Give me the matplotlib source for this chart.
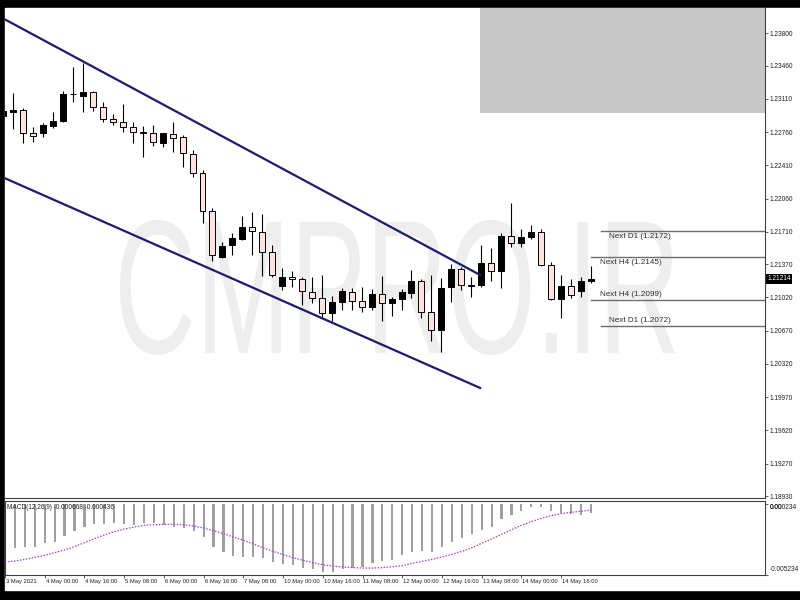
import matplotlib
matplotlib.use("Agg")
import matplotlib.pyplot as plt
import matplotlib.transforms as mtransforms
from matplotlib.patches import Rectangle, PathPatch
from matplotlib.textpath import TextPath
from matplotlib.font_manager import FontProperties

# EURUSD H4 candles, 3 May - 14 May 2021 (bar index 0..59)
opens = [1.22930, 1.22969, 1.22993, 1.22747, 1.22747, 1.22824, 1.22880, 1.23156, 1.23145, 1.23179,
         1.23027, 1.22898, 1.22870, 1.22817, 1.22758, 1.22747, 1.22642, 1.22737, 1.22705, 1.22530,
         1.22333, 1.21933, 1.21449, 1.21572, 1.21635, 1.21758, 1.21712, 1.21501, 1.21140, 1.21238,
         1.21211, 1.21080, 1.21011, 1.20859, 1.20975, 1.21080, 1.20986, 1.20922, 1.21053, 1.20965,
         1.21003, 1.21070, 1.21196, 1.20870, 1.20677, 1.21133, 1.21316, 1.21145, 1.21151, 1.21386,
         1.21301, 1.21670, 1.21596, 1.21659, 1.21712, 1.21361, 1.21000, 1.21140, 1.21091, 1.21196]
highs = [1.23045, 1.23168, 1.23011, 1.22817, 1.22859, 1.22975, 1.23196, 1.23448, 1.23491, 1.23196,
         1.23074, 1.22947, 1.23056, 1.22863, 1.22824, 1.22835, 1.22754, 1.22863, 1.22730, 1.22572,
         1.22361, 1.21958, 1.21607, 1.21695, 1.21877, 1.21922, 1.21898, 1.21572, 1.21327, 1.21301,
         1.21232, 1.21232, 1.21256, 1.21035, 1.21116, 1.21122, 1.21133, 1.21109, 1.21246, 1.21028,
         1.21109, 1.21309, 1.21211, 1.21256, 1.21221, 1.21372, 1.21337, 1.21238, 1.21572, 1.21537,
         1.21695, 1.22017, 1.21737, 1.21782, 1.21737, 1.21396, 1.21256, 1.21211, 1.21232, 1.21351]
lows = [1.22887, 1.22790, 1.22649, 1.22659, 1.22712, 1.22806, 1.22870, 1.23077, 1.22975, 1.22985,
        1.22870, 1.22835, 1.22764, 1.22649, 1.22501, 1.22617, 1.22606, 1.22554, 1.22390, 1.22291,
        1.21800, 1.21407, 1.21432, 1.21467, 1.21624, 1.21467, 1.21246, 1.21238, 1.21098, 1.21133,
        1.20940, 1.20958, 1.20817, 1.20775, 1.20888, 1.20888, 1.20870, 1.20888, 1.20775, 1.20825,
        1.20888, 1.21011, 1.20800, 1.20565, 1.20449, 1.20975, 1.21098, 1.21021, 1.21133, 1.21196,
        1.21116, 1.21548, 1.21554, 1.21632, 1.21351, 1.20993, 1.20800, 1.21011, 1.21021, 1.21169]
closes = [1.22982, 1.22993, 1.22747, 1.22722, 1.22832, 1.22880, 1.23158, 1.23161, 1.23179, 1.23027,
          1.22898, 1.22870, 1.22817, 1.22758, 1.22751, 1.22653, 1.22747, 1.22695, 1.22537, 1.22333,
          1.21933, 1.21467, 1.21561, 1.21642, 1.21758, 1.21722, 1.21501, 1.21256, 1.21238, 1.21211,
          1.21091, 1.21011, 1.20853, 1.20975, 1.21091, 1.20986, 1.20922, 1.21053, 1.20965, 1.21007,
          1.21074, 1.21196, 1.20870, 1.20677, 1.21122, 1.21316, 1.21151, 1.21151, 1.21386, 1.21301,
          1.21670, 1.21596, 1.21659, 1.21712, 1.21361, 1.21000, 1.21140, 1.21046, 1.21196, 1.21214]

# MACD(12,26,9): main histogram and signal line
macd_main = [-0.00330, -0.00326, -0.00319, -0.00314, -0.00289, -0.00277, -0.00233, -0.00196, -0.00166, -0.00149,
             -0.00149, -0.00142, -0.00149, -0.00154, -0.00142, -0.00142, -0.00154, -0.00166, -0.00174, -0.00196,
             -0.00240, -0.00314, -0.00356, -0.00381, -0.00388, -0.00388, -0.00400, -0.00425, -0.00442, -0.00450,
             -0.00474, -0.00482, -0.00499, -0.00499, -0.00482, -0.00474, -0.00462, -0.00437, -0.00420, -0.00413,
             -0.00376, -0.00351, -0.00346, -0.00351, -0.00319, -0.00277, -0.00248, -0.00223, -0.00191, -0.00166,
             -0.00112, -0.00080, -0.00048, -0.00019, -0.00019, -0.00048, -0.00068, -0.00073, -0.00080, -0.000668]
macd_signal = [-0.00427, -0.00420, -0.00408, -0.00393, -0.00378, -0.00358, -0.00339, -0.00314, -0.00285, -0.00255,
               -0.00228, -0.00203, -0.00184, -0.00169, -0.00156, -0.00152, -0.00149, -0.00149, -0.00152, -0.00161,
               -0.00176, -0.00196, -0.00218, -0.00243, -0.00267, -0.00294, -0.00322, -0.00349, -0.00373, -0.00395,
               -0.00415, -0.00432, -0.00447, -0.00457, -0.00464, -0.00469, -0.00472, -0.00472, -0.00469, -0.00462,
               -0.00455, -0.00437, -0.00422, -0.00408, -0.00390, -0.00371, -0.00349, -0.00322, -0.00289, -0.00257,
               -0.00223, -0.00189, -0.00156, -0.00129, -0.00105, -0.00085, -0.00070, -0.00060, -0.00053, -0.000436]

date_ticks = [0, 4, 8, 12, 16, 20, 24, 28, 32, 36, 40, 44, 48, 52, 56]
date_labels = ["3 May 2021", "4 May 00:00", "4 May 16:00", "5 May 08:00", "6 May 00:00",
               "6 May 16:00", "7 May 08:00", "10 May 00:00", "10 May 16:00", "11 May 08:00",
               "12 May 00:00", "12 May 16:00", "13 May 08:00", "14 May 00:00", "14 May 16:00"]

price_ticks = [1.23800, 1.23460, 1.23110, 1.22760, 1.22410, 1.22060, 1.21710, 1.21370,
               1.21020, 1.20670, 1.20320, 1.19970, 1.19620, 1.19270, 1.18930]
price_labels = ["%.5f" % p for p in price_ticks]
last_price = 1.21214

macd_top = 0.000234
macd_bottom = -0.005234

# channel trendlines (bar index, price)
upper_line = ([0.0, 47.9], [1.23954, 1.21256])
lower_line = ([0.0, 47.9], [1.22281, 1.20067])

# supply zone rectangle
zone_start = 47.9
zone_low = 1.22964

# projected levels: (text, price, start bar, text bar, text above line?)
levels = [("Next D1 (1.2172)", 1.2172, 60.0, 60.85, False),
          ("Next H4 (1.2145)", 1.2145, 59.0, 59.95, False),
          ("Next H4 (1.2099)", 1.2099, 59.0, 59.95, True),
          ("Next D1 (1.2072)", 1.2072, 60.0, 60.85, True)]

small = FontProperties(family="Liberation Sans", size=4.7)
dates_font = FontProperties(family="Liberation Sans", size=4.25)

fig = plt.figure(figsize=(8, 6), dpi=100, facecolor="black")
fig.patches.append(Rectangle((5 / 800, 10 / 600), 795 / 800, 582 / 600,
                             transform=fig.transFigure, color="white", zorder=-10))

ax = fig.add_axes([5 / 800, 102 / 600, 760 / 800, 490 / 600])
axm = fig.add_axes([5 / 800, 25 / 600, 760 / 800, 74 / 600])

xlim = (0.15, 76.53)

# watermark
tp = TextPath((0, 0), "CMPRO.IR", size=100, prop=FontProperties(family="Liberation Sans"))
bb = tp.get_extents()
wm_tr = (mtransforms.Affine2D().translate(-bb.x0, -bb.y0)
         .scale(555 / bb.width, 135 / bb.height).translate(120, 245).scale(1 / 100.0)
         + fig.dpi_scale_trans)
ax.add_patch(PathPatch(tp, transform=wm_tr, facecolor="#eeeeee", lw=0, zorder=0.5))

# zone
ax.add_patch(Rectangle((zone_start, zone_low), 40, 0.05, facecolor="#c8c8c8",
                       edgecolor="none", zorder=1))

# candles
for i in range(len(opens)):
    o, h, l, c = opens[i], highs[i], lows[i], closes[i]
    ax.vlines(i, l, h, color="black", lw=0.8, zorder=2)
    bottom = min(o, c)
    height = max(abs(c - o), 0.00001)
    fc = "black" if c >= o else "#fde3df"
    ax.add_patch(Rectangle((i - 0.3, bottom), 0.6, height, facecolor=fc,
                           edgecolor="black", lw=0.7, zorder=3))

ax.plot(*upper_line, color="#1b1b74", lw=1.6, zorder=4)
ax.plot(*lower_line, color="#1b1b74", lw=1.6, zorder=4)

for text, price, start, tx, above in levels:
    ax.plot([start, 80], [price, price], color="#6e6e6e", lw=1.0, zorder=2)
    if above:
        ax.text(tx, price + 0.00025, text, fontsize=5.9, family="Liberation Sans",
                color="#303030", va="bottom", ha="left", zorder=5)
    else:
        ax.text(tx, price - 0.00025, text, fontsize=5.9, family="Liberation Sans",
                color="#303030", va="top", ha="left", zorder=5)

ax.set_xlim(*xlim)
ax.set_ylim(1.18909, 1.24066)
ax.set_xticks([])
ax.yaxis.tick_right()
ax.set_yticks(price_ticks)
ax.set_yticklabels(price_labels, fontproperties=small, color="#202020")
ax.tick_params(axis="y", length=2, width=0.6, pad=1.5, color="#404040")
for s in ["top", "left"]:
    ax.spines[s].set_visible(False)
for s in ["right", "bottom"]:
    ax.spines[s].set_color("#404040")
    ax.spines[s].set_linewidth(0.8)

# current price tag
tr = mtransforms.blended_transform_factory(ax.transAxes, ax.transData)
ax.text(1.003, last_price, "%.5f" % last_price, transform=tr, fontproperties=small,
        color="white", va="center", ha="left",
        bbox=dict(boxstyle="square,pad=0.25", facecolor="black", edgecolor="none"))

# MACD panel
idx = list(range(len(macd_main)))
axm.bar(idx, macd_main, width=0.22, color="#a0a0a0", zorder=2)
axm.plot(idx, macd_signal, color="#a63fd0", lw=0.9, ls=(0, (1.2, 1.2)), zorder=3)
axm.set_xlim(*xlim)
axm.set_ylim(macd_bottom, macd_top)
axm.yaxis.tick_right()
axm.set_yticks([0.0, macd_bottom])
axm.set_yticklabels(["", ""])
axm.tick_params(axis="y", length=2, width=0.6, pad=1.5, color="#404040")
trm = mtransforms.blended_transform_factory(axm.transAxes, axm.transData)
axm.text(1.006, 0.0, "0.00", transform=trm, fontproperties=small,
         color="#202020", va="top", ha="left")
axm.text(1.006, 0.0, "%.6f" % macd_top, transform=trm, fontproperties=small,
         color="#202020", va="top", ha="left")
axm.text(1.006, macd_bottom + 0.0004, "%.6f" % macd_bottom, transform=trm,
         fontproperties=small, color="#202020", va="center", ha="left")
axm.text(0.002, 0.96, "MACD(12,26,9) -0.000668 -0.000436", transform=axm.transAxes,
         fontproperties=small, color="#202020", va="top", ha="left", zorder=5)
axm.set_xticks(date_ticks)
axm.set_xticklabels([""] * len(date_ticks))
axm.tick_params(axis="x", length=2.5, width=0.6, color="#404040")
trx = mtransforms.blended_transform_factory(axm.transData, axm.transAxes)
for t, lab in zip(date_ticks, date_labels):
    axm.text(t + 0.1, -0.06, lab, transform=trx, fontproperties=dates_font,
             color="#202020", va="top", ha="left")
for s in axm.spines.values():
    s.set_color("#404040")
    s.set_linewidth(0.8)

fig.savefig("out.png", dpi=100, facecolor="black")
